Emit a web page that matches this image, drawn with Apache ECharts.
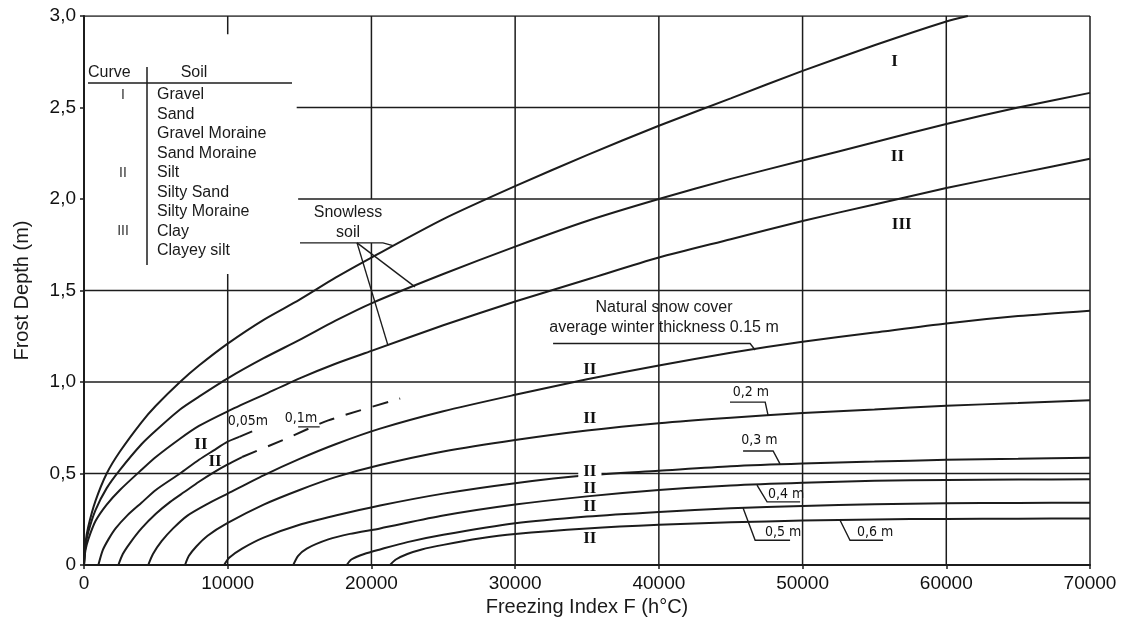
<!DOCTYPE html>
<html><head><meta charset="utf-8">
<script src="https://cdn.jsdelivr.net/npm/echarts@6/dist/echarts.min.js"></script>
<style>html,body{margin:0;padding:0;background:#fff}#c{width:1132px;height:628px}</style>
</head><body><div id="c"></div>
<script>
// ---------- tick labels ----------
const xTickValues = [0,10000,20000,30000,40000,50000,60000,70000];
const yTickLabels = ['0','0,5','1,0','1,5','2,0','2,5','3,0'];

// ---------- curves: [freezing index F (h°C), frost depth (m)] ----------
// snowless soil
const curveI = [[0,0],[100,0.12],[300,0.21],[800,0.35],[1580,0.5],[2500,0.62],[4000,0.78],[5000,0.87],[6680,1.0],[8000,1.09],[10000,1.21],[12500,1.34],[15000,1.45],[17500,1.57],[20000,1.68],[25000,1.89],[30000,2.07],[35000,2.24],[40000,2.4],[45000,2.55],[50000,2.7],[55000,2.84],[60000,2.97],[61500,3.0]];
const curveII = [[0,0],[100,0.1],[300,0.18],[800,0.3],[1580,0.42],[2500,0.52],[4000,0.66],[5000,0.735],[6680,0.85],[8000,0.92],[10000,1.02],[12500,1.13],[15000,1.23],[17500,1.335],[20000,1.43],[25000,1.59],[30000,1.74],[35000,1.88],[40000,2.0],[45000,2.11],[50000,2.21],[55000,2.31],[60000,2.41],[65000,2.5],[70000,2.58]];
const curveIII = [[0,0],[100,0.08],[300,0.14],[800,0.24],[1580,0.33],[2500,0.41],[4000,0.52],[5000,0.59],[6680,0.69],[8000,0.76],[10000,0.84],[12500,0.93],[15000,1.02],[17500,1.1],[20000,1.17],[25000,1.31],[30000,1.44],[35000,1.56],[40000,1.68],[45000,1.78],[50000,1.88],[55000,1.97],[60000,2.06],[65000,2.14],[70000,2.22]];
// snow cover, soil II
const snow005 = [[1000,0],[1300,0.08],[1700,0.14],[2200,0.2],[3000,0.27],[4000,0.34],[5000,0.41],[6680,0.5],[8000,0.575],[9000,0.625],[10000,0.674],[10800,0.7]];
const snow005Dash = [[10800,0.7],[11700,0.73]];
const snow01 = [[2390,0],[2700,0.06],[3200,0.12],[4000,0.2],[5000,0.28],[6000,0.345],[7000,0.4],[8000,0.455],[9000,0.505],[10000,0.55],[11000,0.59]];
const snow01Dash = [[11000,0.59],[13850,0.683],[17000,0.79],[22000,0.91]];
const snow015 = [[4470,0],[4800,0.06],[5400,0.13],[6200,0.2],[7200,0.27],[8500,0.33],[10000,0.39],[12500,0.49],[15000,0.58],[17500,0.66],[20600,0.745],[25000,0.84],[30000,0.93],[35000,1.015],[40000,1.09],[45000,1.16],[50000,1.22],[55000,1.27],[60000,1.32],[65000,1.36],[70000,1.39]];
const snow02 = [[7030,0],[7300,0.05],[7800,0.1],[8600,0.16],[10000,0.23],[12500,0.33],[15000,0.41],[17500,0.48],[20600,0.546],[25000,0.62],[30000,0.683],[35000,0.735],[40000,0.775],[45000,0.805],[50000,0.83],[55000,0.85],[60000,0.87],[65000,0.885],[70000,0.9]];
const snow03 = [[9750,0],[10100,0.04],[11000,0.09],[12500,0.15],[15000,0.22],[17500,0.27],[20600,0.325],[25000,0.39],[30000,0.447],[35000,0.49],[40000,0.515],[45000,0.54],[50000,0.555],[55000,0.565],[60000,0.575],[65000,0.58],[70000,0.586]];
const snow04 = [[14560,0],[14900,0.05],[15500,0.09],[17000,0.14],[18500,0.17],[20600,0.2],[25000,0.27],[30000,0.33],[35000,0.375],[40000,0.41],[45000,0.435],[50000,0.45],[55000,0.46],[60000,0.465],[65000,0.467],[70000,0.468]];
const snow05 = [[18280,0],[18600,0.03],[19500,0.06],[20600,0.085],[22500,0.125],[25000,0.165],[30000,0.228],[35000,0.265],[40000,0.29],[45000,0.31],[50000,0.323],[55000,0.332],[60000,0.337],[65000,0.339],[70000,0.34]];
const snow06 = [[21300,0],[21700,0.03],[22500,0.06],[23500,0.085],[25000,0.11],[27500,0.145],[30000,0.17],[35000,0.2],[40000,0.22],[45000,0.233],[50000,0.243],[55000,0.249],[60000,0.252],[65000,0.253],[70000,0.254]];

// ---------- legend table ----------
const tableHeader = ['Curve','Soil'];
const soilRows = [['I','Gravel'],['','Sand'],['','Gravel Moraine'],['','Sand Moraine'],['II','Silt'],['','Silty Sand'],['','Silty Moraine'],['III','Clay'],['','Clayey silt']];

// ---------- annotations (text at data coordinates) ----------
const romanNotes = [
  ['I',[56400,2.75]],['II',[56600,2.23]],['III',[56900,1.86]],
  ['II',[8140,0.656]],['II',[9120,0.563]],
  ['II',[35200,1.07]],['II',[35200,0.80]],['II',[35200,0.415]],['II',[35200,0.317]],['II',[35200,0.142]]
];
const romanOnGrid = [['II',[35200,0.51]]];
const thicknessNotes = [
  ['0,05m',[11400,0.787]],['0,1m',[15100,0.80]],['0,2 m',[46400,0.945]],['0,3 m',[47000,0.683]],
  ['0,4 m',[48850,0.385]],['0,5 m',[48650,0.18]],['0,6 m',[55050,0.18]]
];
const textNotes = [
  ['Snowless\nsoil',[18370,1.87]],
  ['Natural snow cover\naverage winter thickness 0.15 m',[40360,1.35]]
];
const leaderLines = [
  [[15030,1.76],[20800,1.76],[21500,1.745]],
  [[19000,1.76],[23030,1.52]],
  [[19000,1.76],[21150,1.2]],
  [[32640,1.21],[46350,1.21],[46700,1.175]],
  [[44950,0.89],[47400,0.89],[47600,0.818]],
  [[45860,0.623],[47950,0.623],[48430,0.553]],
  [[46830,0.437],[47530,0.345],[49830,0.345]],
  [[45860,0.312],[46700,0.135],[49130,0.135]],
  [[52600,0.246],[53300,0.135],[55600,0.135]],
  [[14900,0.755],[16400,0.755]]
];
// grid rulings (interrupted where the table and notes sit)
const gridRulings = [
  [[10000,0],[10000,1.59]],[[10000,2.9],[10000,3]],
  [[20000,0],[20000,1.76]],[[20000,2.0],[20000,3]],
  [[30000,0],[30000,3]],[[40000,0],[40000,3]],[[50000,0],[50000,3]],[[60000,0],[60000,3]],[[70000,0],[70000,3]],
  [[0,0.5],[70000,0.5]],[[0,1],[70000,1]],[[0,1.5],[70000,1.5]],
  [[14900,2],[70000,2]],[[14800,2.5],[70000,2.5]],[[0,3],[70000,3]]
];

const ink = '#1c1c1c';
function curve(data, dashed) {
  return {type:'line', data, showSymbol:false, smooth:0.25, silent:true, z:3,
    lineStyle:{color:ink, width:2, type: dashed ? [16,12] : 'solid'}};
}
function notes(items, style) {
  return {type:'scatter', symbolSize:1, silent:true, z:6, itemStyle:{color:'transparent', opacity:1},
    data: items.map(it => ({value: it[1], label: Object.assign({show:true, position:'inside', opacity:1, formatter: it[0]}, style)}))};
}
function polylines(paths, width, z) {
  return {type:'lines', coordinateSystem:'cartesian2d', polyline:true, silent:true, z,
    lineStyle:{color:ink, width, opacity:1}, data: paths.map(p => ({coords:p}))};
}

const sansFont = '"Liberation Sans", Arial, sans-serif';
const graphics = [];
graphics.push({type:'text', x:88, y:73, style:{text:tableHeader[0], font:'16px '+sansFont, fill:'#1a1a1a', textAlign:'left', textVerticalAlign:'middle'}});
graphics.push({type:'text', x:194, y:73, style:{text:tableHeader[1], font:'16px '+sansFont, fill:'#1a1a1a', textAlign:'center', textVerticalAlign:'middle'}});
graphics.push({type:'line', shape:{x1:88,y1:83,x2:292,y2:83}, style:{stroke:ink, lineWidth:1.5}});
graphics.push({type:'line', shape:{x1:147,y1:67,x2:147,y2:265}, style:{stroke:ink, lineWidth:1.5}});
soilRows.forEach((r,i) => {
  const y = 95 + i*19.5;
  if (r[0]) graphics.push({type:'text', x:123, y, style:{text:r[0], font:'14px '+sansFont, fill:'#333', textAlign:'center', textVerticalAlign:'middle'}});
  graphics.push({type:'text', x:157, y, style:{text:r[1], font:'16px '+sansFont, fill:'#1a1a1a', textAlign:'left', textVerticalAlign:'middle'}});
});

const chart = echarts.init(document.getElementById('c'));
chart.setOption({
  animation:false,
  backgroundColor:'#fff',
  grid:{left:84, right:42, top:16, bottom:63, containLabel:false, outerBoundsMode:'none'},
  xAxis:{type:'value', min:0, max:70000, interval:10000,
    name:'Freezing Index F (h°C)', nameLocation:'middle', nameGap:31,
    nameTextStyle:{fontSize:20, color:'#1a1a1a', fontFamily:sansFont},
    axisLine:{show:true, onZero:false, lineStyle:{color:ink, width:2}},
    axisTick:{show:true, length:4, lineStyle:{color:ink, width:1.5}},
    axisLabel:{color:'#111', fontSize:19, fontFamily:sansFont, margin:9, formatter:v => String(v)},
    splitLine:{show:false}},
  yAxis:{type:'value', min:0, max:3, interval:0.5,
    name:'Frost Depth (m)', nameLocation:'middle', nameGap:52,
    nameTextStyle:{fontSize:20, color:'#1a1a1a', fontFamily:sansFont},
    axisLine:{show:true, onZero:false, lineStyle:{color:ink, width:2}},
    axisTick:{show:true, length:4, lineStyle:{color:ink, width:1.5}},
    axisLabel:{color:'#111', fontSize:19, fontFamily:sansFont, margin:8, formatter:v => yTickLabels[Math.round(v/0.5)]},
    splitLine:{show:false}},
  graphic: graphics,
  series:[
    polylines(gridRulings, 1.5, 1),
    curve(curveI), curve(curveII), curve(curveIII),
    curve(snow005), curve(snow005Dash, true), curve(snow01), curve(snow01Dash, true),
    curve(snow015), curve(snow02), curve(snow03), curve(snow04), curve(snow05), curve(snow06),
    polylines(leaderLines, 1.4, 4),
    notes(romanNotes, {color:'#111', fontSize:17, fontWeight:'bold', fontFamily:'"Liberation Serif", "DejaVu Serif", serif'}),
    notes(romanOnGrid, {color:'#111', fontSize:17, fontWeight:'bold', fontFamily:'"Liberation Serif", "DejaVu Serif", serif', backgroundColor:'#fff', padding:[0,5]}),
    notes(thicknessNotes, {color:'#111', fontSize:14, fontFamily:'"DejaVu Sans Condensed", "Liberation Sans Narrow", "DejaVu Sans", sans-serif'}),
    notes(textNotes, {color:'#1a1a1a', fontSize:16, lineHeight:20, align:'center', fontFamily:sansFont})
  ]
});
</script></body></html>
